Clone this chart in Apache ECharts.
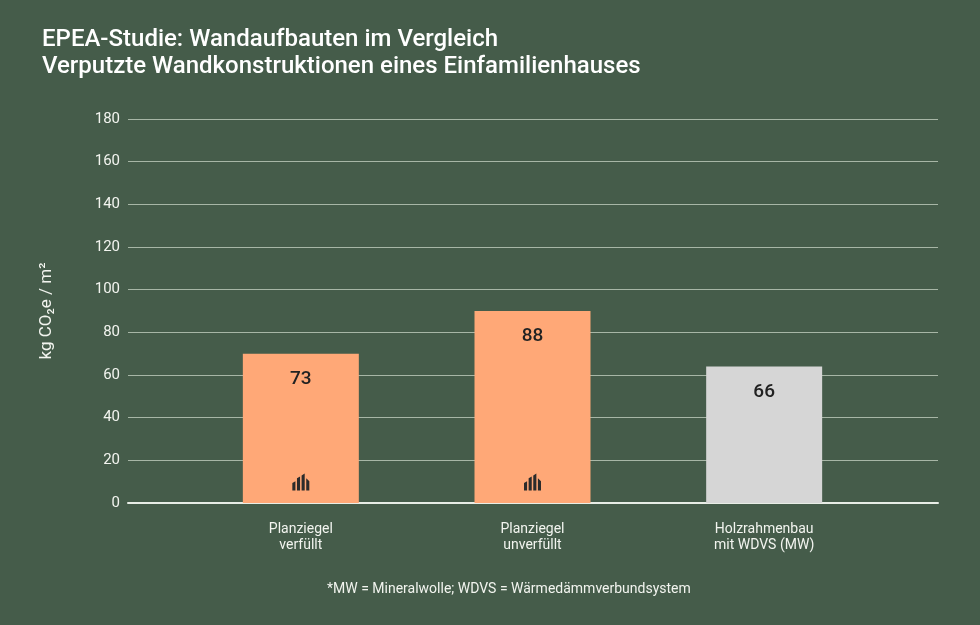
<!DOCTYPE html>
<html>
<head>
<meta charset="utf-8">
<script src="https://cdn.jsdelivr.net/npm/echarts@6/dist/echarts.min.js"></script>
<style>
  html, body { margin: 0; padding: 0; background: #455c4a; }
  #main { width: 980px; height: 625px; }
</style>
</head>
<body>
<div id="main"></div>
<script>
const categories = ['Planziegel\nverfüllt', 'Planziegel\nunverfüllt', 'Holzrahmenbau\nmit WDVS (MW)']
// bar heights as drawn, labels as printed
const barValues = [70, 90, 64]
const labelTexts = ['73', '88', '66']
const barColors = ['#ffa877', '#ffa877', '#d6d6d6']
const iconBars = [0, 1]

const font = 'Roboto, sans-serif'
const textColor = '#f2f4ef'
const brickIcon = 'path://M0,10 L3,8 L3,18 L0,18 Z M4.5,5 L7.5,3 L7.5,18 L4.5,18 Z M9,2 L12,0 L12,18 L9,18 Z M13.5,5 L16.5,8 L16.5,18 L13.5,18 Z'

let myChart = echarts.init(document.getElementById('main'))

let option = {
    backgroundColor: '#455c4a',
    animation: false,
    title: {
        text: 'EPEA-Studie: Wandaufbauten im Vergleich\nVerputzte Wandkonstruktionen eines Einfamilienhauses',
        left: 37,
        top: 21,
        textStyle: {
            color: '#ffffff',
            fontFamily: font,
            fontSize: 24,
            fontWeight: 500,
            lineHeight: 27
        }
    },
    graphic: [{
        type: 'text',
        left: 327,
        top: 582,
        style: {
            text: '*MW = Mineralwolle; WDVS = Wärmedämmverbundsystem',
            fill: textColor,
            font: '14px ' + font
        }
    }],
    grid: [
        {left: 128, right: 42, top: 119, bottom: 122},
        {left: 185, right: 100, top: 119, bottom: 122}
    ],
    xAxis: [
        {
            gridIndex: 0,
            type: 'value',
            min: 0,
            max: 1,
            axisLine: {show: true, lineStyle: {color: '#e8ede6', width: 2}},
            axisTick: {show: false},
            axisLabel: {show: false},
            splitLine: {show: false}
        },
        {
            gridIndex: 1,
            type: 'category',
            data: categories,
            axisLine: {show: false},
            axisTick: {show: false},
            axisLabel: {
                color: textColor,
                fontFamily: font,
                fontSize: 14,
                lineHeight: 16,
                margin: 18
            }
        }
    ],
    yAxis: [
        {
            gridIndex: 0,
            type: 'value',
            min: 0,
            max: 180,
            interval: 20,
            name: 'kg CO₂e / m²',
            nameLocation: 'middle',
            nameRotate: 90,
            nameGap: 73,
            nameTextStyle: {color: textColor, fontFamily: font, fontSize: 17},
            axisLine: {show: false},
            axisTick: {show: false},
            axisLabel: {color: textColor, fontFamily: font, fontSize: 15, margin: 8},
            splitLine: {lineStyle: {color: '#a7b6a6', width: 1}}
        },
        {
            gridIndex: 1,
            type: 'value',
            min: 0,
            max: 180,
            interval: 20,
            show: false,
            splitLine: {show: false}
        }
    ],
    series: [
        {
            type: 'bar',
            xAxisIndex: 1,
            yAxisIndex: 1,
            barWidth: 116,
            data: barValues.map((v, i) => ({
                value: v,
                itemStyle: {color: barColors[i]}
            })),
            label: {
                show: true,
                position: 'insideTop',
                distance: 16,
                color: '#222222',
                fontFamily: font,
                fontSize: 19,
                fontWeight: 500,
                formatter: params => labelTexts[params.dataIndex]
            },
            markPoint: {
                silent: true,
                symbol: brickIcon,
                symbolSize: [17, 17],
                itemStyle: {color: '#2b2b2b'},
                label: {show: false},
                data: iconBars.map(i => ({coord: [i, 9.8]}))
            }
        }
    ]
}

myChart.setOption(option)
</script>
</body>
</html>
